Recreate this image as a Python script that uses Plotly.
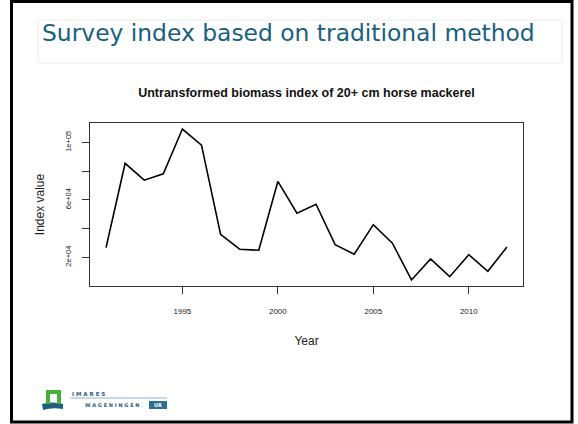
import plotly.graph_objects as go

years = list(range(1991, 2013))
index_values = [26700, 85400, 73700, 78100, 109300, 98100, 36000, 25600, 24900, 72800,
                50700, 56900, 28800, 22100, 42700, 29800, 4200, 18800, 6500, 21800, 10200, 27200]

y_tickvals = [20000, 40000, 60000, 80000, 100000]
y_ticktext = ["2e+04", "", "6e+04", "", "1e+05"]
x_tickvals = [1995, 2000, 2005, 2010]
x_ticktext = ["1995", "2000", "2005", "2010"]

slide_title = "Survey index based on traditional method"
plot_title = "Untransformed biomass index of 20+ cm horse mackerel"

W, H = 578, 424
L, R, T, B = 90, 55, 123, 138

fig = go.Figure()
fig.add_trace(go.Scatter(x=years, y=index_values, mode="lines",
                         line=dict(color="black", width=1.6), hoverinfo="skip"))

xr0, xr1 = min(years), max(years)
dx = (xr1 - xr0) * 0.04
yr0, yr1 = min(index_values), max(index_values)
dy = (yr1 - yr0) * 0.04

axis_font = dict(family="Liberation Sans, Arial, sans-serif", size=8, color="#222222")
fig.update_layout(
    width=W, height=H,
    margin=dict(l=L, r=R, t=T, b=B),
    paper_bgcolor="white", plot_bgcolor="white",
    showlegend=False,
    title=dict(text="<b>" + plot_title + "</b>", x=(L + (W - R)) / 2 / W, xanchor="center",
               y=1 - 93 / H, yanchor="middle",
               font=dict(family="Liberation Sans, Arial, sans-serif", size=12.5, color="#111111")),
    xaxis=dict(range=[xr0 - dx, xr1 + dx], tickvals=x_tickvals, ticktext=x_ticktext,
               showgrid=False, zeroline=False, showline=True, mirror=True,
               linecolor="#333333", linewidth=1.2, ticks="outside", ticklen=7,
               tickcolor="#333333", tickwidth=1.2, tickfont=axis_font,
               ticklabelstandoff=10,
               title=dict(text="Year", standoff=21,
                          font=dict(family="Liberation Sans, Arial, sans-serif", size=12, color="#222222"))),
    yaxis=dict(range=[yr0 - dy, yr1 + dy], tickvals=y_tickvals, ticktext=y_ticktext,
               showgrid=False, zeroline=False, showline=True, mirror=True,
               linecolor="#333333", linewidth=1.2, ticks="outside", ticklen=7,
               tickcolor="#333333", tickwidth=1.2, tickangle=-90,
               tickfont=dict(family="Liberation Sans, Arial, sans-serif", size=7.5, color="#222222"),
               ticklabelstandoff=8,
               title=dict(text="Index value", standoff=16,
                          font=dict(family="Liberation Sans, Arial, sans-serif", size=12, color="#222222"))),
)

def px(x):
    return (x - L) / (W - L - R)
def py(y):
    return (H - y - B) / (H - T - B)

shapes = []
# slide frame
shapes.append(dict(type="rect", xref="paper", yref="paper",
                   x0=px(11.5), x1=px(572), y0=py(422), y1=py(1.5),
                   line=dict(color="black", width=3), layer="below"))
# title box
shapes.append(dict(type="rect", xref="paper", yref="paper",
                   x0=px(38), x1=px(562), y0=py(63), y1=py(20),
                   line=dict(color="#ececec", width=1), layer="below"))
# logo: blue wave base
shapes.append(dict(type="path", xref="paper", yref="paper",
                   path=f"M {px(42)} {py(404)} Q {px(52)} {py(401)} {px(63)} {py(404)} L {px(63)} {py(409)} Q {px(52)} {py(407)} {px(43)} {py(410)} Z",
                   fillcolor="#1e5f7e", line=dict(width=0)))
# green arch
shapes.append(dict(type="path", xref="paper", yref="paper",
                   path=f"M {px(46)} {py(404)} L {px(46)} {py(390)} L {px(61)} {py(390)} L {px(61)} {py(404)} L {px(57)} {py(404)} L {px(57)} {py(394)} L {px(50)} {py(394)} L {px(50)} {py(404)} Z",
                   fillcolor="#47b03a", line=dict(width=0)))
# line under IMARES
shapes.append(dict(type="line", xref="paper", yref="paper",
                   x0=px(70), x1=px(167), y0=py(398), y1=py(398),
                   line=dict(color="#8fb3c6", width=1)))
# UR box
shapes.append(dict(type="rect", xref="paper", yref="paper",
                   x0=px(149), x1=px(167), y0=py(409), y1=py(401),
                   fillcolor="#2e6e90", line=dict(width=0)))
fig.update_layout(shapes=shapes)

annotations = [
    dict(text=slide_title, xref="paper", yref="paper", x=px(40), y=py(33),
         xanchor="left", yanchor="middle", showarrow=False,
         font=dict(family="DejaVu Sans, Verdana, sans-serif", size=23.4, color="#17607f")),
    dict(text="<b>I M A R E S</b>", xref="paper", yref="paper", x=px(70), y=py(393.5),
         xanchor="left", yanchor="middle", showarrow=False,
         font=dict(family="DejaVu Sans, sans-serif", size=5.5, color="#2a5d80")),
    dict(text="<b>W A G E N I N G E N</b>", xref="paper", yref="paper", x=px(83), y=py(405),
         xanchor="left", yanchor="middle", showarrow=False,
         font=dict(family="DejaVu Sans, sans-serif", size=5, color="#2a5d80")),
    dict(text="<b>UR</b>", xref="paper", yref="paper", x=px(158), y=py(405),
         xanchor="center", yanchor="middle", showarrow=False,
         font=dict(family="DejaVu Sans, sans-serif", size=5, color="white")),
]
fig.update_layout(annotations=annotations)

fig.write_html("out.html", config={"displayModeBar": False},
               post_script="document.body.style.margin='0';")
